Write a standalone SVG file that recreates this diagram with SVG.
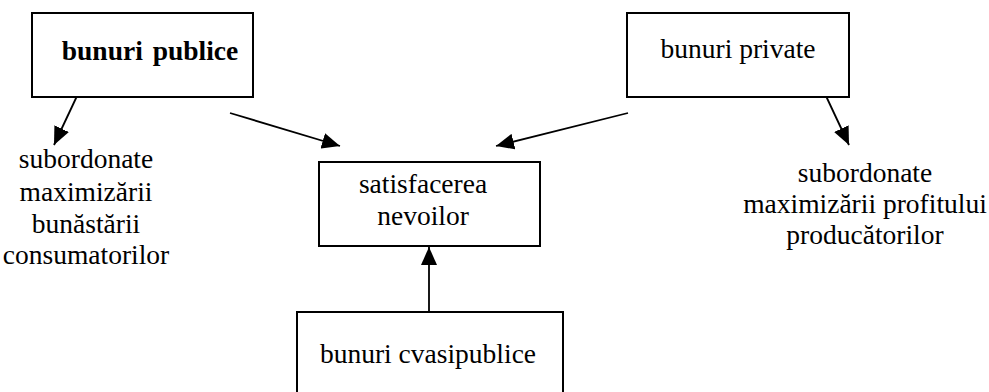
<svg xmlns="http://www.w3.org/2000/svg" width="989" height="392" viewBox="0 0 989 392">
<style>
.box{fill:#fff;stroke:#000;stroke-width:2}
.t{font-family:"Liberation Serif","Times New Roman",serif;font-size:27.5px;fill:#000;text-anchor:middle}
.b{font-weight:bold;word-spacing:3px}
.c{stroke:#000;stroke-width:1.8;fill:none;marker-end:url(#ah)}
</style>
<defs>
<marker id="ah" viewBox="0 0 18 16" refX="18" refY="8" markerWidth="18" markerHeight="16" orient="auto" markerUnits="userSpaceOnUse">
<path d="M0,0 L18,8 L0,16 z" fill="#000"/>
</marker>
</defs>
<rect width="989" height="392" fill="#fff"/>
<g id="connectors">
<line class="c" x1="77" y1="96" x2="54" y2="145"/>
<line class="c" x1="230" y1="113" x2="340" y2="146"/>
<line class="c" x1="628" y1="113" x2="496" y2="146"/>
<line class="c" x1="826" y1="96" x2="849" y2="145"/>
<line class="c" x1="429" y1="312" x2="429" y2="247"/>
</g>
<g id="bunuri-publice">
<rect class="box" x="32" y="13" width="221" height="84"/>
<text class="t b" x="150" y="60">bunuri publice</text>
</g>
<g id="bunuri-private">
<rect class="box" x="627" y="13" width="222" height="84"/>
<text class="t" x="738" y="58">bunuri private</text>
</g>
<g id="satisfacerea-nevoilor">
<rect class="box" x="319" y="162" width="221" height="84"/>
<text class="t" x="423" y="193">satisfacerea</text>
<text class="t" x="423" y="225">nevoilor</text>
</g>
<g id="bunuri-cvasipublice">
<rect class="box" x="297" y="312" width="266" height="100"/>
<text class="t" x="428" y="363">bunuri cvasipublice</text>
</g>
<g id="text-consumatori">
<text class="t" x="86" y="168">subordonate</text>
<text class="t" x="86" y="201">maximizării</text>
<text class="t" x="86" y="233">bunăstării</text>
<text class="t" x="86" y="264">consumatorilor</text>
</g>
<g id="text-producatori">
<text class="t" x="865" y="182">subordonate</text>
<text class="t" x="865" y="213">maximizării profitului</text>
<text class="t" x="865" y="244">producătorilor</text>
</g>
</svg>
